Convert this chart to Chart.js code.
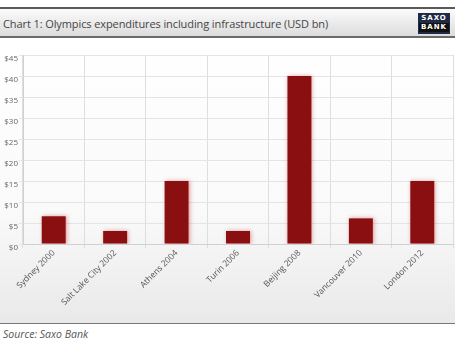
<!DOCTYPE html>
<html>
<head>
<meta charset="utf-8">
<script src="https://cdn.jsdelivr.net/npm/chart.js@4/dist/chart.umd.min.js"></script>
<style>
  html, body { margin: 0; padding: 0; background: #fff; }
  body { width: 455px; height: 344px; position: relative; overflow: hidden; font-family: "Open Sans", sans-serif; }
  #topline { position: absolute; left: 0; top: 7px; width: 455px; height: 2px; background: #5a5a5a; }
  #titlebar { position: absolute; left: 0; top: 9px; width: 455px; height: 27px; background: linear-gradient(#fbfbfb, #dcdcdc); border-bottom: 2px solid #6a6a6a; }
  #title { position: absolute; left: 3px; top: 7px; font-size: 11px; color: #454545; letter-spacing: -0.1px; }
  #logo { position: absolute; left: 418px; top: 4px; width: 32px; height: 20px; background: #1f2a44; color: #fff; font: bold 7px "DejaVu Sans", sans-serif; text-align: center; line-height: 9px; padding-top: 1px; letter-spacing: 1px; }
  #logo span { display: block; }
  #logo .b { background: #111; margin: 0 1px; }
  #panel { position: absolute; left: 0; top: 38px; width: 455px; height: 285px; background: linear-gradient(#ffffff 0%, #fafafa 60%, #e9e9e9 100%); border-bottom: 1px solid #777; }
  #source { position: absolute; left: 3px; top: 327px; font-size: 10.5px; font-style: italic; color: #555; }
</style>
</head>
<body>
<div id="topline"></div>
<div id="titlebar">
  <div id="title">Chart 1: Olympics expenditures including infrastructure (USD bn)</div>
  <div id="logo"><span>SAXO</span><span class="b">BANK</span></div>
</div>
<div id="panel"><canvas id="barChart" width="455" height="285"></canvas></div>
<div id="source">Source: Saxo Bank</div>
<script>
const LABELS = ["Sydney 2000", "Salt Lake City 2002", "Athens 2004", "Turin 2006", "Beijing 2008", "Vancouver 2010", "London 2012"]
const SPENDING = [6.6, 3.1, 15, 3.1, 40, 6.1, 15]
const Y_TICKS = [0, 5, 10, 15, 20, 25, 30, 35, 40, 45]

const barChart = document.getElementById("barChart").getContext("2d")

//Soft red glow around the bars
const glow = {
    id: 'glow',
    beforeDatasetsDraw(chart) {
        chart.ctx.save()
        chart.ctx.shadowColor = 'rgba(200,40,40,0.45)'
        chart.ctx.shadowBlur = 4
        chart.ctx.shadowOffsetX = 1
        chart.ctx.shadowOffsetY = 0
    },
    afterDatasetsDraw(chart) {
        chart.ctx.restore()
    }
}

const myBar = new Chart(barChart, {
    type: 'bar',
    data: {
        labels: LABELS,
        datasets: [{
            label: 'USD bn',
            data: SPENDING,
            backgroundColor: '#8a0f10',
            categoryPercentage: 1,
            barPercentage: 0.39
        }]
    },
    plugins: [glow],
    options: {
        responsive: false,
        animation: false,
        layout: { padding: { top: 17, right: 2, left: 0, bottom: 0 } },
        plugins: {
            legend: { display: false },
            tooltip: { enabled: false }
        },
        scales: {
            x: {
                grid: { color: '#dedede', tickLength: 4, offset: true },
                border: { color: '#d0d0d0' },
                ticks: {
                    color: '#555',
                    font: { family: 'Open Sans', size: 8.5 },
                    maxRotation: 45,
                    minRotation: 45,
                    autoSkip: false,
                    padding: 0
                },
                afterFit(scale) { scale.height = 79 }
            },
            y: {
                min: 0,
                max: 45,
                afterBuildTicks(scale) { scale.ticks = Y_TICKS.map(v => ({ value: v })) },
                grid: { color: '#e4e4e4', tickLength: 4 },
                border: { color: '#d0d0d0' },
                ticks: {
                    color: '#666',
                    font: { family: 'Open Sans', size: 8 },
                    padding: 1,
                    align: 'start',
                    callback: (v) => '$' + v
                },
                afterFit(scale) { scale.width = 23 }
            }
        }
    }
})
</script>
</body>
</html>
